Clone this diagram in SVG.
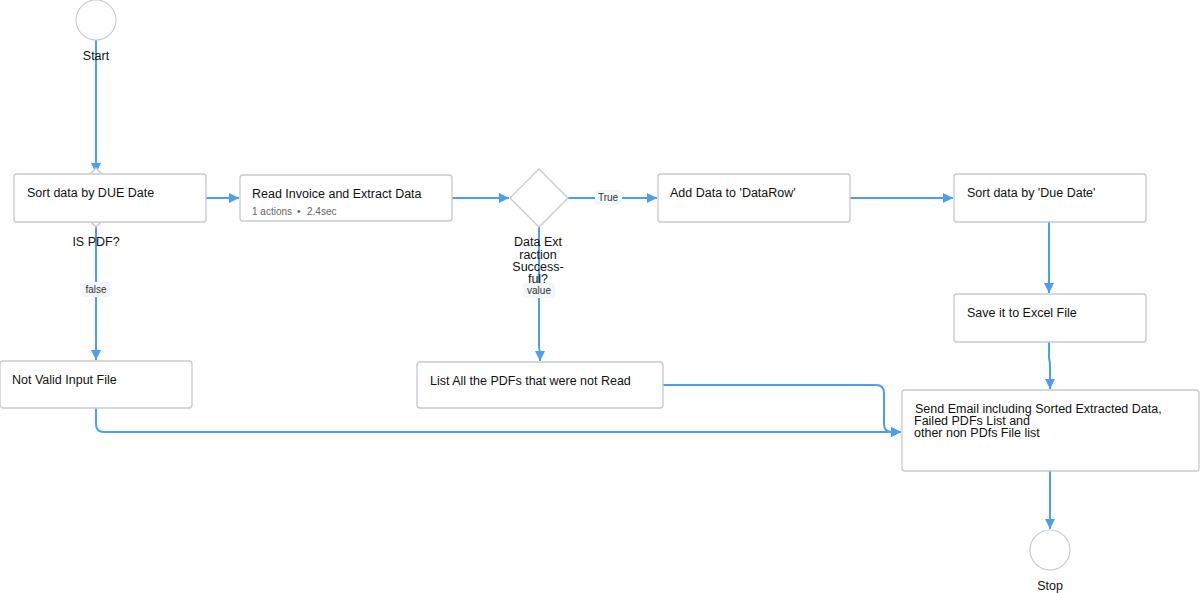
<svg xmlns="http://www.w3.org/2000/svg" width="1200" height="593" viewBox="0 0 1200 593">
<defs>
<marker id="arr" viewBox="0 0 10 10" refX="10" refY="5" markerWidth="10" markerHeight="10" markerUnits="userSpaceOnUse" orient="auto">
<path d="M0,0 L10,5 L0,10 z" fill="#4a9ff0"/>
</marker>
<style>
.node{fill:#fff;stroke:#c6cacf;stroke-width:1.3}
.circ{fill:#fff;stroke:#c6cacf;stroke-width:1.2}
.t{font-family:"Liberation Sans",Arial,sans-serif;font-size:12.5px;fill:#111}
.c{text-anchor:middle}
.sub{font-family:"Liberation Sans",Arial,sans-serif;font-size:10px;fill:#666}
.edge{fill:none;stroke:#4a9ff0;stroke-width:2;marker-end:url(#arr)}
.pill{fill:#f2f6fa;stroke:none}
.pt{font-family:"Liberation Sans",Arial,sans-serif;font-size:10px;fill:#333;text-anchor:middle}
</style>
</defs>
<rect width="1200" height="593" fill="#fff"/>

<g id="connectors">
<path class="edge" d="M96,40 V173"/>
<path class="edge" d="M206,198 H239"/>
<path class="edge" d="M452,198 H509"/>
<path class="edge" d="M568,198 H657"/>
<path class="edge" d="M850,198 H953"/>
<path class="edge" d="M96,227 V360"/>
<path class="edge" d="M539,227 V345 Q539,350 540,352 V361"/>
<path class="edge" d="M1049,222 V293"/>
<path class="edge" d="M1049,342 V358 Q1050,362 1050,366 V389"/>
<path class="edge" d="M96,408 V424 Q96,432 104,432 H901"/>
<path class="edge" d="M663,385 H876 Q884,385 884,393 V424 Q884,432 892,432 H901"/>
<path class="edge" d="M1050,471 V529"/>
<rect class="pill" x="82" y="282" width="28" height="15" rx="4"/>
<text class="pt" x="96" y="293">false</text>
<rect class="pill" x="595" y="190" width="27" height="15" rx="4"/>
<text class="pt" x="608" y="201">True</text>
<rect class="pill" x="523" y="283" width="32" height="15" rx="4"/>
<text class="pt" x="539" y="294">value</text>
</g>

<g id="start">
<circle class="circ" cx="96" cy="20" r="20"/>
<text class="t c" x="96" y="60">Start</text>
</g>

<g id="is-pdf">
<path class="node" d="M96,168 L125,198 L96,227 L67,198 z"/>
<text class="t c" x="96" y="246">IS PDF?</text>
</g>

<g id="sort-due">
<rect class="node" x="14" y="174" width="192" height="48" rx="3"/>
<text class="t" x="27" y="197">Sort data by DUE Date</text>
</g>

<g id="read-invoice">
<rect class="node" x="240" y="175" width="212" height="46" rx="3"/>
<text class="t" x="252" y="198">Read Invoice and Extract Data</text>
<text class="sub" x="252" y="215">1 actions</text>
<text class="sub" x="297" y="215">•</text>
<text class="sub" x="307" y="215">2.4sec</text>
</g>

<g id="data-ok">
<path class="node" d="M539,169 L568,198 L539,227 L510,198 z"/>
<text class="t c" x="538" y="246">Data Ext</text>
<text class="t c" x="538" y="259">raction</text>
<text class="t c" x="538" y="271">Success-</text>
<text class="t c" x="538" y="283">ful?</text>
</g>

<g id="add-data">
<rect class="node" x="658" y="174" width="192" height="48" rx="3"/>
<text class="t" x="670" y="197">Add Data to 'DataRow'</text>
</g>

<g id="sort-due2">
<rect class="node" x="954" y="174" width="192" height="48" rx="3"/>
<text class="t" x="967" y="197">Sort data by 'Due Date'</text>
</g>

<g id="save-excel">
<rect class="node" x="954" y="294" width="192" height="48" rx="3"/>
<text class="t" x="967" y="317">Save it to Excel File</text>
</g>

<g id="not-valid">
<rect class="node" x="0" y="361" width="192" height="47" rx="3"/>
<text class="t" x="12" y="384">Not Valid Input File</text>
</g>

<g id="list-pdfs">
<rect class="node" x="417" y="362" width="246" height="46" rx="3"/>
<text class="t" x="430" y="385">List All the PDFs that were not Read</text>
</g>

<g id="send-email">
<rect class="node" x="902" y="390" width="297" height="81" rx="3"/>
<text class="t" x="915" y="413">Send Email including Sorted Extracted Data,</text>
<text class="t" x="914" y="425">Failed PDFs List and</text>
<text class="t" x="914" y="437">other non PDfs File list</text>
</g>

<g id="stop">
<circle class="circ" cx="1050" cy="550" r="20"/>
<text class="t c" x="1050" y="590">Stop</text>
</g>
</svg>
